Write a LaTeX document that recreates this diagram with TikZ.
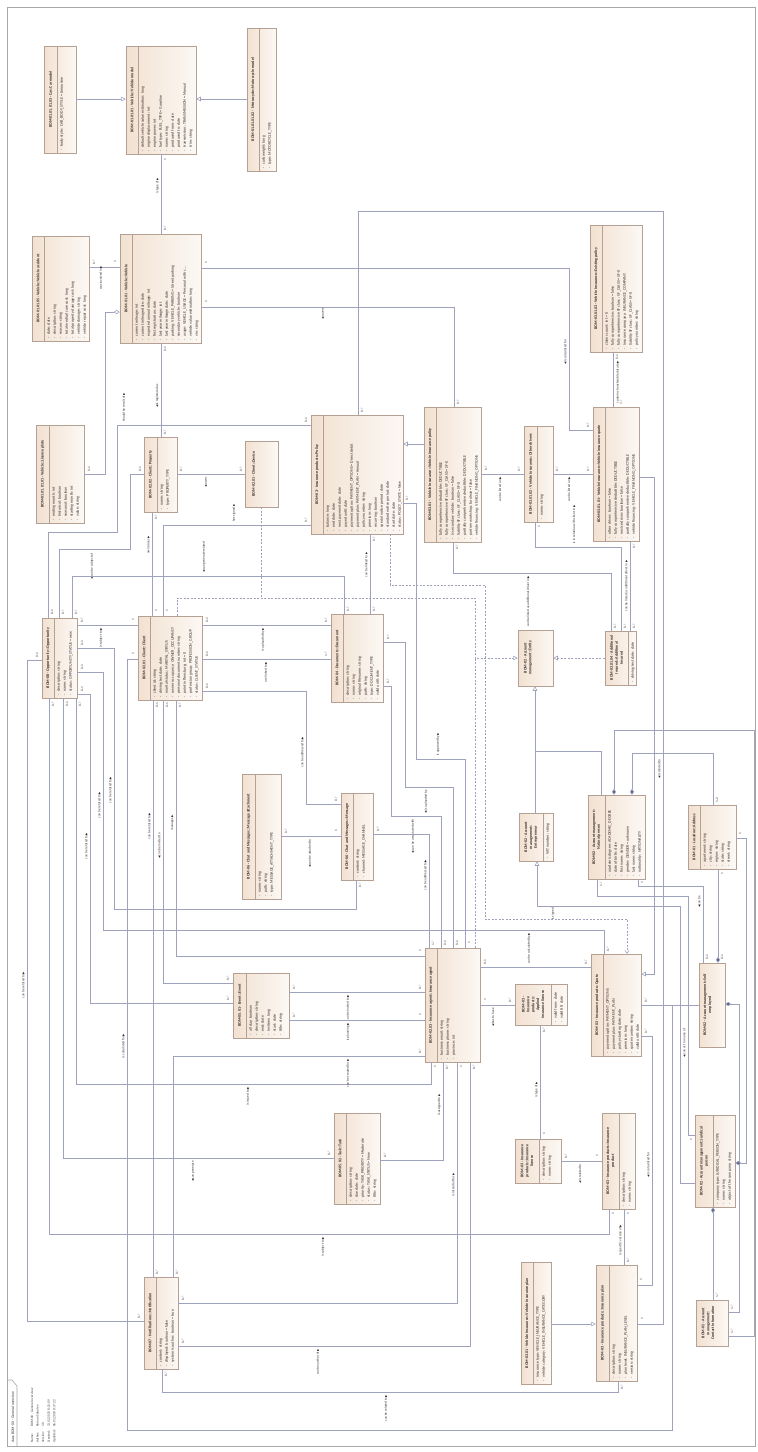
\documentclass[tikz,border=0pt]{standalone}
\usepackage{fontspec}
\setmainfont{Carlito}
\newfontfamily\sym{DejaVu Sans}
\usetikzlibrary{arrows.meta,fit}
\hyphenpenalty=10000 \exhyphenpenalty=10000
\definecolor{bfillA}{HTML}{F2E1D1}
\definecolor{bfillB}{HTML}{FCF8F4}
\definecolor{bdr}{HTML}{B5A193}
\definecolor{ln}{HTML}{9EA2BD}
\definecolor{dia}{HTML}{5F6688}
\definecolor{tx}{HTML}{3A2E2A}
\definecolor{frm}{HTML}{A8A8A8}
\tikzset{
 boxsty/.style={draw=bdr, line width=0.5pt, left color=bfillA, right color=bfillB, inner sep=0pt, rectangle},
 divsty/.style={draw=bdr, line width=0.4pt},
 titlesty/.style={rotate=90, align=center, inner sep=0pt, text=tx, font=\bfseries\fontsize{4}{4.9}\selectfont},
 attrsty/.style={rotate=90, anchor=base west, inner sep=0pt, text=tx, font=\fontsize{4}{4.6}\selectfont},
 lbl/.style={rotate=90, inner sep=0pt, text=tx, font=\fontsize{3.4}{4}\selectfont},
 assoc/.style={draw=ln, line width=0.55pt},
 gen/.style={draw=ln, line width=0.55pt, -{Triangle[open, length=4.5pt, width=4.5pt, fill=white]}},
 real/.style={gen, dash pattern=on 2pt off 1.5pt},
 dsh/.style={draw=ln, line width=0.55pt, dash pattern=on 2pt off 1.5pt},
 dep/.style={dsh, -{Straight Barb[length=3pt,width=4pt]}},
 comp/.style={draw=ln, line width=0.55pt, {Diamond[length=6pt, width=4pt, fill=dia]}-},
 aggr/.style={draw=ln, line width=0.55pt, {Diamond[open, length=6pt, width=4pt, fill=white]}-},
}
\newcommand\cls[8]{%
 \node[boxsty, fit={(#2,#3) (#4,#5)}] (#1) {};
 \draw[divsty] (#6,#3) -- (#6,#5);
 \node[titlesty] at ({(#2+#6)/2},{(#3+#5)/2}) {#7};
 \foreach \a [count=\i from 0] in {#8} {
   \pgfmathsetmacro\bx{#6+5.8+6*\i}
   \node[attrsty] at (\bx,#5-2.5) {-\hspace{2.5pt}\a};
 }}
\newcommand\clse[7]{%
 \node[boxsty, fit={(#2,#3) (#4,#5)}] (#1) {};
 \node[titlesty] at ({(#2+#6)/2},{(#3+#5)/2}) {#7};}
\newcommand\lb[3][]{\node[lbl,#1] at #2 {#3};}
\newcommand\ra{\,{\sym\fontsize{3}{3}\selectfont ▶}}
\newcommand\la{{\sym\fontsize{3}{3}\selectfont ◀}\,}
\begin{document}
\begin{tikzpicture}[x=1pt,y=-1pt]
\useasboundingbox (0,0) rectangle (758,1452);
\fill[white] (0,0) rectangle (758,1452);
\draw[frm, line width=0.6pt] (7,7) rectangle (755,1446);
\draw[frm, line width=0.6pt] (7,1380) -- (12,1380) -- (17,1386) -- (17,1446);
\node[lbl, font=\fontsize{3.8}{4}\selectfont, anchor=base west] at (14,1443) {class BOM-00 - General overview};
\foreach \k/\v [count=\i from 0] in {Name:/BOM-00 - General overview, Author:/Roman Sobolev, Version:/1.0, Created:/13.02.2023 8:21:09, Updated:/06.01.2024 8:17:22}{
 \node[lbl, anchor=base west, text=frm!40!black] at (33+5.6*\i,1443) {\k};
 \node[lbl, anchor=base west, text=frm!40!black] at (33+5.6*\i,1427) {\v};
}

% ---------------- classes
\cls{carmodel}{44}{46}{76}{153}{57}{BOM-01.01.01.03 - Car::Car model}{body style : CAR\_BODY\_STYLE = Limousine}
\cls{vmodel}{126}{46}{196}{154}{138}{BOM-01.01.01 - Vehicle::Vehicle model}{default vehicle value estimation: long, engine displacement: int, engine power: int, fuel type: FUEL\_TYPE = Gasoline, name: string, produced from: date, produced to: date, transmission: TRANSMISSION = Manual, trim: string}
\cls{moto}{247}{28}{276}{171}{259}{BOM-01.01.01.02 - Motorcycle::Motorcycle model}{curb weight: long, type: MOTORCYCLE\_TYPE}
\cls{accident}{32}{236}{89}{341}{44}{BOM-01.01.05 - Vehicle::Vehicle accident}{date: date, description: string, reason: string, total medical care cost: long, total property damage cost: long, vehicle damage: string, vehicle repair cost: long}
\cls{vehicle}{120}{234}{201}{343}{132}{BOM-01.01 - Vehicle::Vehicle}{current mileage: int, current mileage date: date, expected annual mileage: int, first registration: date, last year mileage: int, last year mileage date: date, parking: VEHICLE\_PARKING = Street parking, secondary vehicle: boolean, usage: VEHICLE\_USAGE = Personal with c\ldots, vehicle value estimation: long, vin: string}
\cls{plate}{36}{425}{84}{523}{49}{BOM-01.01.01.01 - Vehicle::License plate}{ending month: int, historical: boolean, seasonal: boolean, starting month: int, value: string}
\cls{property}{144}{437}{177}{512}{157}{BOM-02.02 - Client::Property}{name: string, type: PROPERTY\_TYPE}
\clse{device}{245}{441}{278}{507}{262}{BOM-02.01 - Client::Device}
\cls{policy}{311}{415}{403}{534}{323}{BOM-03 - Insurance products::Policy}{balance: long, end date: date, next payment date: date, payed until: date, payment option: PAYMENT\_OPTIONS = Direct debit, payment plan: PAYMENT\_PLAN = Annual, policy number: string, premium: long, recurring: boolean, special notice period: date, standard notice period: date, start date: date, status: POLICY\_STATE = New}
\cls{vip}{424}{407}{481}{542}{436}{BOM-03.01 - Vehicle Insurance::Vehicle insurance policy}{fully comprehensive deductible: DEDUCTIBLE, fully comprehensive SF class: SF\_CLASS = SF-0, is secondary vehicle: boolean = false, liability SF class: SF\_CLASS = SF-0, partially comprehensive deductible: DEDUCTIBLE, partner workshop: boolean = false, vehicle financing: VEHICLE\_FINANCING\_OPTIONS}
\cls{others}{524}{426}{553}{522}{537}{BOM-03.01.02 - Vehicle Insurance::Other drivers}{name: string}
\cls{viq}{593}{407}{639}{541}{605}{BOM-03.01.01 - Vehicle Insurance::Vehicle insurance quote}{other driver: boolean = false, fully comprehensive deductible: DEDUCTIBLE, novice driver: boolean = false, partially comprehensive deductible: DEDUCTIBLE, vehicle financing: VEHICLE\_FINANCING\_OPTIONS}
\cls{existing}{590}{225}{642}{352}{602}{BOM-03.01.03 - Vehicle Insurance::Existing policy}{claims count: int = 0, fully comprehensive: boolean = false, fully comprehensive SF class : SF\_CLASS = SF-0, insurance company: INSURANCE\_COMPANY, liability SF class: SF\_CLASS = SF-0, policy number: string}
\cls{client}{138}{616}{202}{700}{150}{BOM-02.01 - Client::Client}{client id: string, driving test date: date, marital status: MARITAL\_STATUS, owner occupancy: OWNER\_OCCUPANCY, personal document number: string, point in flensburg: int = 0, profession group: PROFESSION\_GROUP, status: CLIENT\_STATUS}
\cls{opportunity}{42}{618}{77}{698}{54}{BOM-08 - Opportunity::Opportunity}{description: string, name: string, status: OPPORTUNITY\_STATUS = new}
\cls{document}{331}{614}{383}{702}{343}{BOM-04 - Documents::Document}{description: string, name: string, original filename: string, path: string, type: DOCUMENT\_TYPE, valid until: date}
\clse{entity}{518}{630}{553}{686}{538}{BOM-02 - Account\\ management::Entity}
\cls{addins}{605}{631}{636}{685}{628}{BOM-03.01.04 - Additional\\ Insured::Additional\\ Insured}{driving test date: date}
\cls{attach}{242}{774}{281}{899}{255}{BOM-06 - Chat and Messages::Message attachment}{name: string, path: string, type: MESSAGE\_ATTACHMENT\_TYPE}
\cls{message}{341}{793}{373}{880}{353}{BOM-06 - Chat and Messages::Message}{content: string, channel: MESSAGE\_CHANNEL}
\cls{event}{233}{973}{289}{1038}{246}{BOM-05.01 - Event::Event}{all day: boolean, description: string, end: date, invitees: long, start: date, title: string}
\cls{agent}{425}{948}{480}{1062}{437}{BOM-02.03 - Insurance agent::Insurance agent}{business email: string, business phone: string, province: int}
\cls{entrepreneur}{519}{813}{553}{861}{543}{BOM-02 - Account\\ management::\\ Entrepreneur}{VAT number: string}
\cls{natural}{588}{795}{645}{879}{605}{BOM-02 - Account management::\\ Natural person}{academic degree: ACADEMIC\_DEGREE, date of birth: date, first name: string, gender: GENDER = unknown, last name: string, nationality: NATIONALITY}
\cls{address}{688}{805}{736}{869}{700}{BOM-01 - Location::Address}{apartment: string, city: string, region: string, state: string, street: string}
\cls{quote}{591}{954}{641}{1056}{603}{BOM-03 - Insurance products::Quote}{payment option: PAYMENT\_OPTIONS, payment plan: PAYMENT\_PLAN, policy starting date: date, premium: long, quote number: string, valid until: date}
\cls{applied}{515}{984}{567}{1025}{551}{BOM-03 -\\ Insurance\\ products::\\ Applied\\ insurance license}{valid from: date, valid till: date}
\clse{selfemp}{699}{963}{725}{1047}{716}{BOM-02 - Account management::Self\\ employed}
\cls{task}{334}{1113}{380}{1204}{346}{BOM-05.02 - Task::Task}{description: string, due date: date, priority: TASK\_PRIORITY = Moderate, status: TASK\_STATUS = New, title: string}
\cls{notification}{144}{1277}{178}{1369}{156}{BOM-07 - Notifications::Notification}{content: string, displayed: boolean = false, system is author: boolean = true}
\cls{license}{515}{1139}{561}{1183}{539}{BOM-03 - Insurance\\ products::Insurance\\ license}{description: string, name: string}
\cls{product}{602}{1113}{635}{1209}{619}{BOM-03 - Insurance products::Insurance\\ product}{description: string, name: string}
\cls{vplan}{521}{1262}{551}{1384}{533}{BOM-03.01 - Vehicle Insurance::Vehicle Insurance plan}{insurance type: VEHICLE\_INSURANCE\_TYPE, vehicle category: VEHICLE\_INSURANCE\_CATEGORY}
\cls{plan}{596}{1265}{637}{1381}{609}{BOM-03 - Insurance products::Insurance plan}{description: string, name: string, plan level: INSURANCE\_PLAN\_LEVEL, version: string}
\cls{juridical}{695}{1115}{735}{1207}{713}{BOM-02 - Account management::Juridical\\ person}{company type: JURIDICAL\_PERSON\_TYPE, name: string, object of the company: string}
\clse{contact}{696}{1300}{728}{1346}{720}{BOM-02 - Account\\ management::\\ Contact information}

% ---------------- generalizations / realizations
\draw[gen] (carmodel.east |- 0,99) -- (vmodel.west |- 0,99);
\draw[gen] (moto.west |- 0,99) -- (vmodel.east |- 0,99);
\draw[gen] (vip.west |- 0,444) -- (policy.east |- 0,444);
\draw[gen] (viq.east |- 0,477) -- (654,477) -- (654,974) -- (quote.east |- 0,974);
\draw[gen] (vplan.east |- 0,1324) -- (plan.west |- 0,1324);
\draw[gen] (entrepreneur.north -| 535,0) -- (entity.south -| 535,0);
\draw[assoc] (natural.north -| 601,0) -- (601,751) -- (535,751);
\draw[gen] (juridical.west |- 0,1183) -- (680,1183) -- (680,906) -- (537,906) -- (entrepreneur.south -| 537,0);
\draw[real] (client.north -| 177,0) -- (177,598) -- (475,598) -- (475,658) -- (entity.west |- 0,658);
\draw[dsh] (device.south -| 261,0) -- (261,598);
\draw[dsh] (agent.north -| 475,0) -- (475,658);
\draw[real] (addins.west |- 0,658) -- (entity.east |- 0,658);
\draw[dep] (policy.south -| 390,0) -- (390,585) -- (485,585) -- (485,919) -- (627,919) -- (quote.north -| 627,0);
\lb{(553,914)}{is signed}

% ---------------- aggregation / composition
\draw[aggr] (vehicle.west |- 0,312) -- (105,312) -- (105,474) -- (plate.east |- 0,474);
\lb{(89,469)}{0..1}
\draw[comp] (natural.north -| 614,0) -- (614,730) -- (754,730) -- (754,1336) -- (contact.east |- 0,1336);
\draw[comp] (natural.north -| 632,0) -- (632,753) -- (713,753) -- (address.north -| 713,0);
\draw[comp] (selfemp.north -| 718,0) -- (address.south -| 718,0);
\draw[comp] (juridical.south -| 713,0) -- (contact.north -| 713,0);
\draw[comp] (selfemp.east |- 0,1004) -- (739,1004) -- (739,1312) -- (contact.east |- 0,1312);
\draw[comp] (juridical.east |- 0,1163) -- (746,1163) -- (746,838) -- (address.east |- 0,838);
\lb{(717,800)}{1..2} \lb{(722,874)}{1} \lb{(722,957)}{0..1} \lb{(717,1295)}{1..*}
\lb{(732,1307)}{1..*} \lb{(732,1331)}{1..*} \lb{(740,834)}{1}

% ---------------- associations
\draw[assoc] (vmodel.south -| 161,0) -- (vehicle.north -| 161,0);
\lb[anchor=south]{(159,186)}{is type of\ra} \lb{(165,160)}{1} \lb{(165,228)}{0..*}
\draw[assoc] (accident.east |- 0,267) -- (vehicle.west |- 0,267);
\lb{(101,278)}{was involved in\ra} \lb{(94,262)}{0..*} \lb{(115,262)}{1}
\draw[assoc] (vehicle.east |- 0,268) -- (569,268) -- (569,430) -- (viq.west |- 0,430);
\lb[anchor=south]{(567,352)}{\la is calculated for} \lb{(206,263)}{1} \lb{(588,425)}{0..*}
\draw[assoc] (vehicle.east |- 0,307) -- (454,307) -- (vip.north -| 454,0);
\lb{(323,314)}{\la covers} \lb{(206,302)}{1} \lb{(458,402)}{0..*}
\draw[assoc] (vehicle.south -| 161,0) -- (property.north -| 161,0);
\lb[anchor=south]{(159,396)}{\la is registered as} \lb{(165,349)}{0..1} \lb{(165,432)}{0..*}
\draw[assoc] (policy.west |- 0,425) -- (117,425) -- (117,532) -- (48,532) -- (opportunity.north -| 48,0);
\lb[anchor=west]{(124,422)}{should be result of\ra} \lb{(306,420)}{0..1} \lb{(52,612)}{0..1}
\draw[assoc] (property.west |- 0,474) -- (130,474) -- (130,549) -- (59,549) -- (opportunity.north -| 59,0);
\lb[anchor=east]{(92,553)}{\la can be subject of} \lb{(140,469)}{0..1} \lb{(63,612)}{0..*}
\draw[assoc] (opportunity.north -| 72,0) -- (72,576) -- (344,576) -- (document.north -| 344,0);
\lb[anchor=west]{(204,573)}{\la can generate related} \lb{(76,612)}{0..*} \lb{(348,609)}{0..*}
\draw[assoc] (property.east |- 0,474) -- (device.west |- 0,474);
\lb[anchor=east]{(206,477)}{\la owns} \lb{(181,469)}{0..*} \lb{(241,469)}{0..*}
\draw[assoc] (client.north -| 152,0) -- (property.south -| 152,0);
\lb[anchor=south]{(150,545)}{owns/uses\ra} \lb{(156,611)}{1} \lb{(156,517)}{0..*}
\draw[assoc] (client.north -| 163,0) -- (163,525) -- (policy.west |- 0,525);
\lb[anchor=west]{(234,522)}{has signed\ra} \lb{(167,611)}{1} \lb{(306,520)}{0..*}
\draw[assoc] (policy.north -| 358,0) -- (358,211) -- (663,211) -- (663,1324) -- (plan.east |- 0,1324);
\lb[anchor=south]{(661,769)}{\la is related to} \lb{(362,410)}{0..*} \lb{(642,1319)}{1}
\draw[assoc] (existing.south -| 613,0) -- (viq.north -| 613,0);
\lb[anchor=north]{(616,382)}{contains transferable data to\ra} \lb{(617,357)}{0..1} \lb{(621,402)}{1..*}
\draw[assoc] (policy.south -| 370,0) -- (document.north -| 370,0);
\lb[anchor=south]{(368,565)}{can be linked to\ra} \lb{(374,539)}{0..*} \lb{(374,609)}{0..*}
\draw[assoc] (policy.east |- 0,503) -- (416,503) -- (416,759) -- (465,759) -- (agent.north -| 465,0);
\lb[anchor=west]{(438,756)}{is approved by\ra} \lb{(407,498)}{0..*} \lb{(469,943)}{1}
\draw[assoc] (vip.east |- 0,474) -- (others.west |- 0,474);
\lb[anchor=east]{(500,477)}{can be listed on\ra} \lb{(486,468)}{0..*} \lb{(519,469)}{0..*}
\draw[assoc] (others.east |- 0,474) -- (viq.west |- 0,474);
\lb[anchor=east]{(569,477)}{can be listed on\ra} \lb{(557,469)}{0..*} \lb{(588,469)}{0..*}
\draw[assoc] (vip.south -| 453,0) -- (453,573) -- (611,573) -- (addins.north -| 611,0);
\lb[anchor=east]{(528,576)}{can be listed as additional driver in\ra} \lb{(457,547)}{0..*} \lb{(615,626)}{0..*}
\draw[assoc] (others.south -| 535,0) -- (535,547) -- (621,547) -- (addins.north -| 621,0);
\lb[anchor=west]{(574,544)}{is in relation with client in\ra} \lb{(539,527)}{1} \lb{(625,626)}{0..*}
\draw[assoc] (viq.south -| 630,0) -- (addins.north -| 630,0);
\lb[anchor=south]{(628,586)}{can be listed as additional driver in\ra} \lb{(634,546)}{0..*} \lb{(634,626)}{0..*}
\draw[assoc] (opportunity.east |- 0,625) -- (client.west |- 0,625);
\lb[anchor=east]{(101,628)}{is subject to\ra} \lb{(82,620)}{0..*} \lb{(133,620)}{1}
\draw[assoc] (client.east |- 0,625) -- (document.west |- 0,625);
\lb[anchor=east]{(263,628)}{is uploaded by\ra} \lb{(207,620)}{0..1} \lb{(326,620)}{0..*}
\draw[assoc] (client.east |- 0,659) -- (document.west |- 0,659);
\lb[anchor=east]{(266,662)}{are linked to\ra} \lb{(207,654)}{0..1} \lb{(326,654)}{1..*}
\draw[assoc] (client.east |- 0,691) -- (306,691) -- (306,804) -- (message.west |- 0,804);
\lb[anchor=south]{(304,752)}{can be addressed to\ra} \lb{(207,686)}{0..1} \lb{(336,799)}{0..*}
\draw[assoc] (document.east |- 0,642) -- (405,642) -- (405,787) -- (453,787) -- (agent.north -| 453,0);
\lb[anchor=east]{(426,790)}{\la is uploaded by} \lb{(388,637)}{0..*} \lb{(457,943)}{0..1}
\draw[assoc] (document.east |- 0,686) -- (391,686) -- (391,816) -- (441,816) -- (agent.north -| 441,0);
\lb[anchor=east]{(413,819)}{\la can be associated with} \lb{(388,681)}{0..*} \lb{(445,943)}{0..1}
\draw[assoc] (message.east |- 0,834) -- (429,834) -- (agent.north -| 429,0);
\lb[anchor=south]{(427,875)}{can be addressed to\ra} \lb{(378,829)}{0..*} \lb{(433,943)}{1..*}
\draw[assoc] (attach.east |- 0,836) -- (message.west |- 0,836);
\lb[anchor=east]{(310,839)}{\la can be attached to} \lb{(286,831)}{0..*} \lb{(336,831)}{1}
\draw[assoc] (message.south -| 356,0) -- (356,909) -- (114,909) -- (114,648) -- (opportunity.east |- 0,648);
\lb[anchor=south]{(112,790)}{can be related to\ra} \lb{(360,885)}{0..*} \lb{(82,643)}{0..1}
\draw[assoc] (opportunity.east |- 0,672) -- (103,672) -- (103,930) -- (604,930) -- (quote.north -| 604,0);
\lb[anchor=south]{(101,805)}{can be related to\ra} \lb{(82,667)}{0..1} \lb{(608,949)}{0..*}
\draw[assoc] (opportunity.east |- 0,694) -- (90,694) -- (90,1003) -- (event.west |- 0,1003);
\lb[anchor=south]{(88,846)}{can be related to\ra} \lb{(82,689)}{0..1} \lb{(228,998)}{0..*}
\draw[assoc] (opportunity.west |- 0,660) -- (27,660) -- (27,1321) -- (notification.west |- 0,1321);
\lb[anchor=south]{(25,985)}{can be related to\ra} \lb{(37,655)}{0..1} \lb{(139,1316)}{0..*}
\draw[assoc] (opportunity.south -| 49,0) -- (49,1234) -- (609,1234) -- (product.south -| 609,0);
\lb[anchor=east]{(323,1237)}{is subject to\ra} \lb{(53,704)}{0..*} \lb{(613,1214)}{1}
\draw[assoc] (opportunity.south -| 63,0) -- (63,1158) -- (task.west |- 0,1158);
\lb[anchor=east]{(193,1161)}{\la can generate} \lb{(67,704)}{0..1} \lb{(329,1153)}{0..*}
\draw[assoc] (opportunity.south -| 76,0) -- (76,1084) -- (431,1084) -- (agent.south -| 431,0);
\lb[anchor=east]{(248,1087)}{is issued to\ra} \lb{(80,704)}{0..*} \lb{(435,1067)}{1}
\draw[assoc] (client.west |- 0,659) -- (127,659) -- (127,1430) -- (672,1430) -- (672,1005) -- (selfemp.west |- 0,1005);
\draw[assoc] (quote.east |- 0,1005) -- (672,1005);
\lb[anchor=south]{(125,1046)}{is calculated for\ra} \lb{(133,654)}{1} \lb{(646,1000)}{0..*}
\draw[assoc] (client.south -| 153,0) -- (notification.north -| 153,0);
\lb[anchor=south]{(151,826)}{can be related to\ra} \lb{(157,705)}{0..1} \lb{(157,1272)}{0..*}
\draw[assoc] (client.south -| 163,0) -- (163,983) -- (event.west |- 0,983);
\lb[anchor=south]{(161,846)}{\la can be invited to} \lb{(167,705)}{0..1} \lb{(228,978)}{0..*}
\draw[assoc] (client.south -| 176,0) -- (176,956) -- (agent.west |- 0,956);
\lb[anchor=south]{(174,823)}{manages\ra} \lb{(180,705)}{0..*} \lb{(420,951)}{1}
\draw[assoc] (agent.west |- 0,1056) -- (173,1056) -- (notification.north -| 173,0);
\lb[anchor=east]{(348,1059)}{can be created for\ra} \lb{(420,1051)}{0..*} \lb{(177,1272)}{0..*}
\draw[assoc] (event.east |- 0,992) -- (agent.west |- 0,992);
\lb[anchor=east]{(348,995)}{can be invited to\ra} \lb{(294,987)}{0..*} \lb{(420,987)}{0..*}
\draw[assoc] (event.east |- 0,1020) -- (agent.west |- 0,1020);
\lb[anchor=east]{(348,1023)}{is planning\ra} \lb{(294,1015)}{0..*} \lb{(420,1015)}{1}
\draw[assoc] (agent.east |- 0,967) -- (quote.west |- 0,967);
\lb[anchor=west]{(529,964)}{can be calculated by\ra} \lb{(485,962)}{0..1} \lb{(586,962)}{0..*}
\draw[assoc] (agent.east |- 0,1005) -- (applied.west |- 0,1005);
\lb[anchor=east]{(493,1008)}{\la has to have} \lb{(485,1000)}{1} \lb{(510,1000)}{0..*}
\draw[assoc] (agent.south -| 443,0) -- (443,1160) -- (task.east |- 0,1160);
\lb[anchor=south]{(441,1105)}{is assigned to\ra} \lb{(447,1067)}{0..*} \lb{(385,1155)}{0..*}
\draw[assoc] (agent.south -| 457,0) -- (457,1303) -- (notification.east |- 0,1303);
\lb[anchor=south]{(455,1185)}{is intended for\ra} \lb{(461,1067)}{1} \lb{(183,1298)}{0..*}
\draw[assoc] (agent.south -| 470,0) -- (470,1346) -- (notification.east |- 0,1346);
\lb[anchor=east]{(318,1349)}{can be author of\ra} \lb{(474,1067)}{0..*} \lb{(183,1341)}{0..*}
\draw[assoc] (notification.south -| 162,0) -- (162,1392) -- (618,1392) -- (plan.south -| 618,0);
\lb[anchor=east]{(386,1395)}{can be related to\ra} \lb{(166,1374)}{0..*} \lb{(622,1387)}{0..*}
\draw[assoc] (applied.south -| 540,0) -- (license.north -| 540,0);
\lb[anchor=south]{(538,1090)}{is type of\ra} \lb{(544,1030)}{0..*} \lb{(544,1134)}{1}
\draw[assoc] (product.west |- 0,1161) -- (license.east |- 0,1161);
\lb[anchor=east]{(580,1164)}{\la is related to} \lb{(597,1156)}{1} \lb{(566,1156)}{0..*}
\draw[assoc] (plan.north -| 624,0) -- (product.south -| 624,0);
\lb[anchor=south]{(622,1240)}{is specific version of\ra} \lb{(628,1260)}{0..*} \lb{(628,1214)}{1}
\draw[assoc] (plan.east |- 0,1285) -- (652,1285) -- (652,1036) -- (quote.east |- 0,1036);
\lb[anchor=south]{(650,1165)}{\la is calculated for} \lb{(641,1280)}{1} \lb{(646,1031)}{0..*}
\draw[assoc] (natural.south -| 638,0) -- (638,886) -- (703,886) -- (selfemp.north -| 703,0);
\lb[anchor=south]{(701,902)}{\la can be} \lb{(642,883)}{1} \lb{(707,957)}{0..1}
\draw[assoc] (natural.south -| 597,0) -- (597,896) -- (688,896) -- (688,1135) -- (juridical.west |- 0,1135);
\lb[anchor=south]{(686,1043)}{\la can act in name of} \lb{(601,884)}{1..*} \lb{(691,1140)}{1}
\end{tikzpicture}
\end{document}
